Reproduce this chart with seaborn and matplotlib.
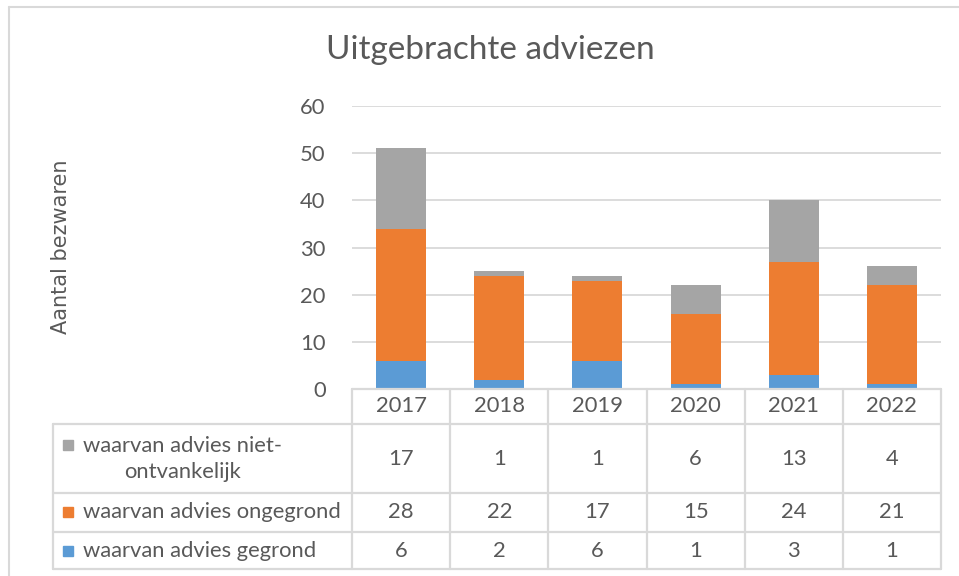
import numpy as np
import pandas as pd
import matplotlib.pyplot as plt
import matplotlib.transforms as mtransforms
import seaborn as sns

# data
years = ['2017', '2018', '2019', '2020', '2021', '2022']
gegrond = [6, 2, 6, 1, 3, 1]
ongegrond = [28, 22, 17, 15, 24, 21]
niet_ontvankelijk = [17, 1, 1, 6, 13, 4]
series_labels = ['waarvan advies niet-\nontvankelijk',
                 'waarvan advies ongegrond',
                 'waarvan advies gegrond']
title = 'Uitgebrachte adviezen'
ylabel = 'Aantal bezwaren'
yticks = [0, 10, 20, 30, 40, 50, 60]

BLUE = '#5B9BD5'
ORANGE = '#ED7D31'
GRAY = '#A5A5A5'
TXT = '#595959'
LINE = '#D9D9D9'
FS = 15.8

sns.set_theme(style='white')
plt.rcParams['font.family'] = ['Lato', 'DejaVu Sans']

W, H = 959, 576
fig = plt.figure(figsize=(W / 100, H / 100), dpi=100)


def fx(px):
    return px / W


def fy(py):
    return 1 - py / H


# plot area in pixels: x 352..941, y 106..389
ax = fig.add_axes([fx(352), fy(389), fx(941) - fx(352), fy(106) - fy(389)])

df = pd.DataFrame({'jaar': years,
                   'gegrond': gegrond,
                   'ongegrond': ongegrond,
                   'niet': niet_ontvankelijk})
df['tot_ongegrond'] = df['gegrond'] + df['ongegrond']
df['tot_niet'] = df['tot_ongegrond'] + df['niet']

# stacked bars drawn back to front
for col, c in [('tot_niet', GRAY), ('tot_ongegrond', ORANGE), ('gegrond', BLUE)]:
    sns.barplot(data=df, x='jaar', y=col, color=c, saturation=1, width=0.51,
                ax=ax, zorder=3, linewidth=0)

ax.set_xlim(-0.5, len(years) - 0.5)
ax.set_ylim(0, 60)
ax.set_yticks(yticks)
ax.set_yticklabels([str(t) for t in yticks], color=TXT, fontsize=FS)
ax.tick_params(axis='y', length=0, pad=19)
ax.set_xticks([])
ax.set_xlabel('')
ax.set_ylabel('')
for s in ax.spines.values():
    s.set_visible(False)
for t in yticks:
    ax.axhline(t, color=LINE, lw=1.3, zorder=1)

fig.text(fx(490), fy(50), title, ha='center', va='center', fontsize=24, color=TXT)
fig.text(fx(61), fy(247), ylabel, ha='center', va='center', rotation=90,
         fontsize=15, color=TXT, family=['DejaVu Sans'])

# data table
blend = mtransforms.blended_transform_factory(ax.transData, fig.transFigure)
lw = 1.6
# horizontal lines
fig.add_artist(plt.Line2D([fx(352), fx(941)], [fy(389), fy(389)], color=LINE, lw=lw))
for py in [424, 493, 532, 569]:
    fig.add_artist(plt.Line2D([fx(53), fx(941)], [fy(py), fy(py)], color=LINE, lw=lw))
# vertical lines
for i in range(len(years) + 1):
    fig.add_artist(plt.Line2D([i - 0.5, i - 0.5], [fy(389), fy(569)], color=LINE,
                              lw=lw, transform=blend))
fig.add_artist(plt.Line2D([fx(53), fx(53)], [fy(424), fy(569)], color=LINE, lw=lw))

for i, y in enumerate(years):
    fig.text(i, fy(406), y, transform=blend, ha='center', va='center',
             fontsize=FS, color=TXT)

row_y = [459, 512, 551]
row_vals = [niet_ontvankelijk, ongegrond, gegrond]
row_cols = [GRAY, ORANGE, BLUE]
for ry, vals, c, lab in zip(row_y, row_vals, row_cols, series_labels):
    for i, v in enumerate(vals):
        fig.text(i, fy(ry), str(v), transform=blend, ha='center', va='center',
                 fontsize=FS, color=TXT)
    sq_y = ry if '\n' not in lab else 445
    fig.add_artist(plt.Rectangle((fx(63), fy(sq_y + 5)), fx(10), 10 / H,
                                 color=c, transform=fig.transFigure))
    fig.text(fx(83), fy(ry), lab, ha='left', va='center', multialignment='center',
             fontsize=FS, color=TXT, linespacing=1.4)

# outer chart frame
fig.add_artist(plt.Line2D([fx(9), fx(9)], [fy(7), 0], color=LINE, lw=1.5))
fig.add_artist(plt.Line2D([fx(9), 1], [fy(7), fy(7)], color=LINE, lw=1.5))

fig.savefig('out.png', dpi=100)
